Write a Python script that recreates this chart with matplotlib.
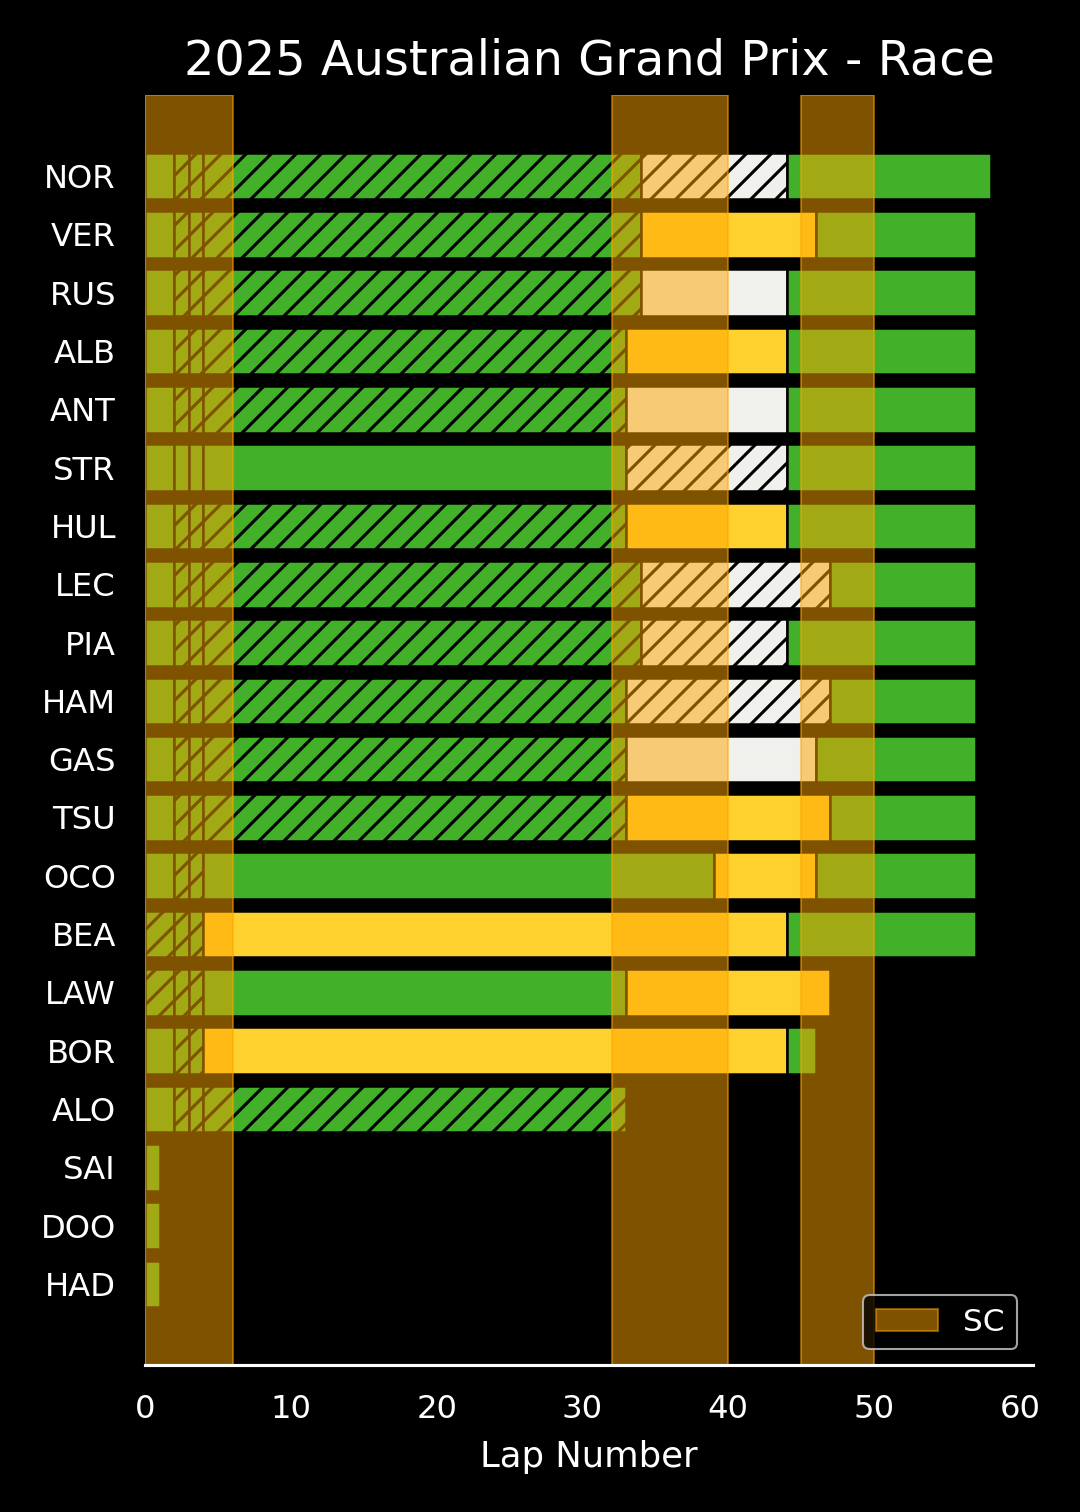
import matplotlib
matplotlib.use("Agg")
import matplotlib.pyplot as plt

# drivers, finishing order top to bottom
drivers = ["NOR", "VER", "RUS", "ALB", "ANT", "STR", "HUL", "LEC", "PIA", "HAM",
           "GAS", "TSU", "OCO", "BEA", "LAW", "BOR", "ALO", "SAI", "DOO", "HAD"]

# stint lengths in laps, per driver
stint_laps = [
    [2, 1, 1, 30, 10, 14],  # NOR
    [2, 1, 1, 30, 12, 11],  # VER
    [2, 1, 1, 30, 10, 13],  # RUS
    [2, 1, 1, 29, 11, 13],  # ALB
    [2, 1, 1, 29, 11, 13],  # ANT
    [2, 1, 1, 29, 11, 13],  # STR
    [2, 1, 1, 29, 11, 13],  # HUL
    [2, 1, 1, 30, 13, 10],  # LEC
    [2, 1, 1, 30, 10, 13],  # PIA
    [2, 1, 1, 29, 14, 10],  # HAM
    [2, 1, 1, 29, 13, 11],  # GAS
    [2, 1, 1, 29, 14, 10],  # TSU
    [2, 1, 1, 35, 7, 11],   # OCO
    [2, 1, 1, 40, 13],      # BEA
    [2, 1, 1, 29, 14],      # LAW
    [2, 1, 1, 40, 2],       # BOR
    [2, 1, 1, 29],          # ALO
    [1],                    # SAI
    [1],                    # DOO
    [1],                    # HAD
]

# I = intermediate, M = medium, H = hard
stint_compounds = [
    "IIIIHI",  # NOR
    "IIIIMI",  # VER
    "IIIIHI",  # RUS
    "IIIIMI",  # ALB
    "IIIIHI",  # ANT
    "IIIIHI",  # STR
    "IIIIMI",  # HUL
    "IIIIHI",  # LEC
    "IIIIHI",  # PIA
    "IIIIHI",  # HAM
    "IIIIHI",  # GAS
    "IIIIMI",  # TSU
    "IIIIMI",  # OCO
    "IIIMI",   # BEA
    "IIIIM",   # LAW
    "IIIMI",   # BOR
    "IIII",    # ALO
    "I",       # SAI
    "I",       # DOO
    "I",       # HAD
]

# 1 = fresh tyre, 0 = used tyre (hatched)
stint_fresh = [
    [1, 0, 0, 0, 0, 1],  # NOR
    [1, 0, 0, 0, 1, 1],  # VER
    [1, 0, 0, 0, 1, 1],  # RUS
    [1, 0, 0, 0, 1, 1],  # ALB
    [1, 0, 0, 0, 1, 1],  # ANT
    [1, 1, 1, 1, 0, 1],  # STR
    [1, 0, 0, 0, 1, 1],  # HUL
    [1, 0, 0, 0, 0, 1],  # LEC
    [1, 0, 0, 0, 0, 1],  # PIA
    [1, 0, 0, 0, 0, 1],  # HAM
    [1, 0, 0, 0, 1, 1],  # GAS
    [1, 0, 0, 0, 1, 1],  # TSU
    [1, 0, 0, 1, 1, 1],  # OCO
    [0, 0, 0, 1, 1],     # BEA
    [0, 0, 0, 1, 1],     # LAW
    [1, 0, 0, 1, 1],     # BOR
    [1, 0, 0, 0],        # ALO
    [1],                 # SAI
    [1],                 # DOO
    [1],                 # HAD
]

# safety car periods (start lap, end lap)
sc_start = [0, 32, 45]
sc_end = [6, 40, 50]

compound_colors = {"I": "#43B02A", "M": "#FFD12E", "H": "#F0F0EC"}

plt.style.use("dark_background")
plt.rcParams["hatch.linewidth"] = 1.5

fig = plt.figure(figsize=(7.2, 10.08), dpi=150)
ax = fig.add_axes([0.1343, 0.0972, 0.8222, 0.84])

for i, drv in enumerate(drivers):
    left = 0
    for laps, comp, fresh in zip(stint_laps[i], stint_compounds[i], stint_fresh[i]):
        ax.barh(i, laps, left=left, height=0.8, color=compound_colors[comp],
                edgecolor="black", linewidth=1.2,
                hatch=None if fresh else "//")
        left += laps

for k, (s, e) in enumerate(zip(sc_start, sc_end)):
    ax.axvspan(s, e, color="orange", alpha=0.5, label="SC" if k == 0 else None)

ax.set_yticks(range(len(drivers)))
ax.set_yticklabels(drivers)
ax.set_ylim(20.39, -1.39)
ax.set_xlim(0, 60.9)
ax.set_xticks([0, 10, 20, 30, 40, 50, 60])

ax.tick_params(axis="both", length=0, pad=14, labelsize=15.5)
for side in ["top", "left", "right"]:
    ax.spines[side].set_visible(False)
ax.spines["bottom"].set_color("white")
ax.spines["bottom"].set_linewidth(1.5)

ax.set_xlabel("Lap Number", fontsize=17, labelpad=7)
ax.set_title("2025 Australian Grand Prix - Race", fontsize=23, pad=10)
ax.legend(loc="lower right", fontsize=15)

fig.savefig("out.png", dpi=150, facecolor="black")
